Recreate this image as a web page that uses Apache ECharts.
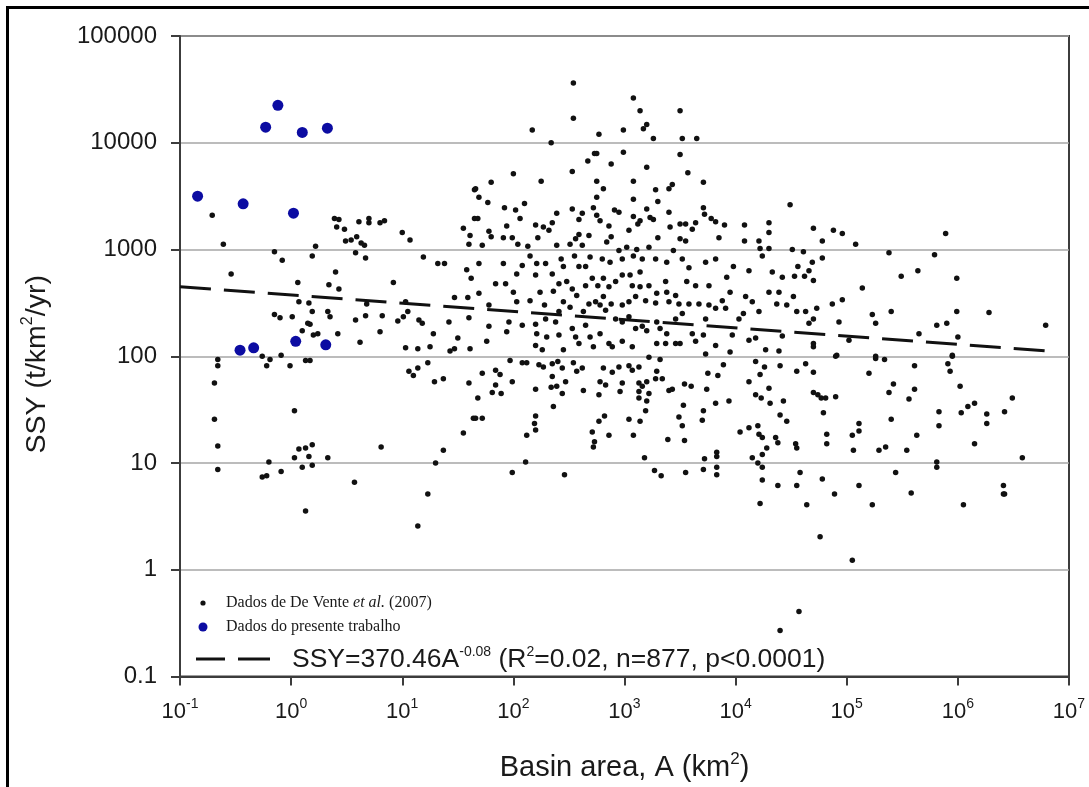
<!DOCTYPE html>
<html><head><meta charset="utf-8">
<script src="https://cdn.jsdelivr.net/npm/echarts@6/dist/echarts.min.js"></script>
<style>html,body{margin:0;padding:0;background:#fff}#c{width:1089px;height:787px}</style>
</head><body><div id="c"></div>
<script>
// De Vente et al. (2007) data as [log10(A km2), log10(SSY t/km2/yr)]
const deVenteLog = [
[-0.71,3.32],[-0.61,3.05],[-0.54,2.77],[-0.15,2.98],[-0.08,2.90],[0.06,2.69],[0.19,2.94],[0.22,3.03],[0.40,2.79],[0.34,2.67],
[0.43,2.63],[0.39,3.29],[0.43,3.28],[0.41,3.21],[0.48,3.19],[0.61,3.26],[0.70,3.29],[0.70,3.25],[0.80,3.25],[0.84,3.27],
[0.49,3.08],[0.54,3.09],[0.59,3.12],[0.63,3.06],[0.66,3.04],[0.58,2.97],[0.67,2.92],[1.00,3.16],[1.07,3.09],[1.19,2.93],
[1.32,2.87],[1.38,2.87],[0.92,2.69],[1.55,3.20],[1.61,3.13],[1.60,3.05],[1.65,3.56],[1.65,3.29],[1.58,2.81],[1.62,2.73],
[1.47,2.55],[1.59,2.55],[1.60,2.36],[1.42,2.32],[1.50,2.17],[1.43,2.05],[1.47,2.07],[1.61,2.07],[0.07,2.51],[0.16,2.50],
[0.19,2.42],[0.33,2.42],[0.35,2.37],[-0.15,2.39],[-0.10,2.36],[0.01,2.37],[0.15,2.31],[0.17,2.30],[0.10,2.24],[0.20,2.20],
[0.24,2.21],[0.42,2.21],[0.58,2.34],[0.67,2.38],[0.68,2.49],[0.82,2.38],[0.80,2.23],[0.62,2.13],[0.96,2.33],[1.01,2.37],
[1.05,2.42],[1.03,2.51],[1.15,2.34],[1.18,2.31],[1.28,2.21],[1.03,2.08],[1.14,2.07],[1.25,2.09],[-0.09,2.01],[-0.26,2.00],
[-0.66,1.97],[-0.66,1.91],[-0.69,1.75],[-0.69,1.41],[-0.66,1.16],[-0.66,0.94],[-0.19,1.97],[-0.22,1.91],[-0.01,1.91],[0.13,1.96],
[0.17,1.96],[0.03,1.49],[0.07,1.13],[0.13,1.14],[0.19,1.17],[0.03,1.05],[0.16,1.06],[0.33,1.05],[-0.20,1.01],[-0.09,0.92],
[0.10,0.96],[0.19,0.98],[-0.26,0.87],[-0.22,0.88],[0.57,0.82],[0.13,0.55],[0.81,1.15],[1.06,1.86],[1.10,1.82],[1.14,1.89],
[1.23,1.94],[1.29,1.76],[1.37,1.79],[1.60,1.75],[1.64,1.42],[1.55,1.28],[1.37,1.12],[1.30,1.00],[1.23,0.71],[1.14,0.41],
[2.54,4.56],[2.54,4.23],[2.17,4.12],[2.34,4.00],[2.77,4.08],[2.99,4.12],[3.08,4.42],[3.14,4.30],[3.20,4.17],[3.17,4.13],
[3.26,4.04],[3.50,4.30],[3.52,4.04],[3.65,4.04],[3.50,3.89],[3.57,3.72],[3.71,3.63],[2.99,3.91],[2.73,3.90],[2.75,3.90],
[2.67,3.83],[2.88,3.80],[3.20,3.77],[2.53,3.73],[2.00,3.71],[2.25,3.64],[1.80,3.63],[1.66,3.57],[1.69,3.49],[1.77,3.44],
[1.92,3.39],[2.02,3.37],[2.10,3.43],[2.06,3.29],[1.68,3.29],[1.94,3.22],[1.78,3.17],[1.80,3.12],[1.91,3.11],[1.99,3.11],
[2.04,3.05],[2.13,3.03],[1.72,3.04],[2.75,3.64],[2.81,3.57],[2.75,3.49],[3.08,3.64],[3.08,3.47],[3.28,3.56],[3.30,3.45],
[3.43,3.61],[3.40,3.57],[2.53,3.38],[2.39,3.34],[2.62,3.34],[2.59,3.28],[2.72,3.39],[2.75,3.32],[2.78,3.27],[2.86,3.22],
[2.91,3.37],[2.95,3.35],[3.08,3.31],[3.14,3.27],[3.12,3.24],[3.20,3.38],[3.23,3.30],[3.26,3.28],[3.40,3.35],[3.41,3.21],
[3.50,3.24],[3.55,3.24],[3.64,3.25],[3.71,3.39],[3.72,3.33],[3.78,3.29],[3.82,3.26],[3.90,3.23],[4.08,3.23],[4.30,3.25],
[4.30,3.16],[4.21,3.08],[4.08,3.08],[3.85,3.11],[3.61,3.19],[3.50,3.10],[3.55,3.08],[3.30,3.11],[3.04,3.18],[2.88,3.12],
[2.84,3.07],[2.68,3.13],[2.59,3.14],[2.56,3.10],[2.62,3.04],[2.51,3.05],[2.39,3.04],[2.32,3.18],[2.27,3.21],[2.20,3.23],
[2.22,3.11],[2.35,3.25],[3.44,2.99],[3.22,3.02],[3.11,3.00],[3.02,3.02],[2.95,2.99],[4.22,3.01],[4.30,3.01],[1.69,2.87],
[1.91,2.87],[2.08,2.85],[2.03,2.77],[2.15,2.94],[2.21,2.87],[2.29,2.87],[2.20,2.76],[2.35,2.77],[2.43,2.91],[2.45,2.84],
[2.55,2.94],[2.59,2.84],[2.65,2.84],[2.69,2.93],[2.80,2.91],[2.87,2.88],[2.98,2.91],[3.08,2.94],[3.16,2.91],[3.28,2.91],
[3.38,2.88],[3.52,2.91],[3.58,2.83],[3.73,2.88],[3.82,2.91],[3.98,2.84],[4.12,2.80],[4.24,2.94],[4.33,2.79],[1.84,2.68],
[1.93,2.68],[1.69,2.59],[1.78,2.48],[2.00,2.60],[2.03,2.51],[2.15,2.52],[2.24,2.60],[2.28,2.48],[2.36,2.61],[2.41,2.68],
[2.48,2.70],[2.53,2.63],[2.57,2.57],[2.65,2.66],[2.71,2.73],[2.76,2.66],[2.81,2.73],[2.86,2.65],[2.81,2.56],[2.74,2.51],
[2.92,2.70],[2.98,2.76],[3.05,2.76],[3.14,2.79],[3.07,2.66],[3.14,2.65],[3.22,2.66],[3.29,2.59],[3.37,2.70],[3.38,2.60],
[3.46,2.57],[3.56,2.70],[3.64,2.66],[3.76,2.66],[3.92,2.74],[3.95,2.60],[3.88,2.52],[3.82,2.45],[3.91,2.45],[3.76,2.48],
[3.58,2.49],[3.67,2.49],[3.49,2.49],[3.40,2.51],[3.28,2.50],[3.19,2.52],[3.10,2.56],[3.04,2.51],[2.98,2.48],[2.88,2.49],
[2.83,2.43],[2.78,2.48],[2.68,2.49],[2.63,2.42],[2.51,2.46],[2.45,2.51],[2.41,2.42],[4.09,2.56],[4.15,2.51],[4.30,2.60],
[4.21,2.42],[4.07,2.40],[4.03,2.35],[1.96,2.32],[2.08,2.29],[1.94,2.23],[1.78,2.28],[1.76,2.14],[2.20,2.30],[2.21,2.21],
[2.29,2.35],[2.38,2.32],[2.30,2.18],[2.41,2.20],[2.53,2.26],[2.56,2.18],[2.65,2.29],[2.69,2.18],[2.78,2.21],[2.86,2.12],
[2.92,2.35],[2.98,2.32],[3.04,2.37],[3.10,2.26],[3.16,2.28],[3.20,2.24],[3.29,2.32],[3.32,2.26],[3.38,2.21],[3.46,2.35],
[3.52,2.40],[3.61,2.21],[3.71,2.20],[3.82,2.10],[3.73,2.35],[3.97,2.20],[4.18,2.17],[4.27,2.06],[4.12,2.15],[2.20,2.10],
[2.26,2.06],[2.45,2.06],[2.59,2.12],[2.72,2.09],[2.89,2.09],[2.98,2.14],[3.07,2.09],[3.29,2.12],[3.37,2.12],[3.46,2.12],
[3.50,2.12],[3.64,2.14],[3.95,2.04],[3.73,2.02],
[1.97,1.96],[2.08,1.94],[2.12,1.94],[2.23,1.92],[2.27,1.90],[2.35,1.93],[2.40,1.95],[2.44,1.89],[2.54,1.94],[2.57,1.86],
[2.62,1.89],[1.84,1.87],[1.88,1.83],[1.72,1.84],[1.99,1.76],[1.84,1.73],[1.81,1.66],[1.89,1.65],[1.68,1.61],[2.35,1.81],
[2.47,1.76],[2.39,1.72],[2.34,1.71],[2.44,1.65],[2.20,1.69],[2.63,1.68],[2.36,1.53],[2.81,1.89],[2.89,1.85],[2.95,1.90],
[3.04,1.91],[3.13,1.90],[3.07,1.87],[2.78,1.76],[2.83,1.73],[2.77,1.64],[2.98,1.75],[2.96,1.67],[3.13,1.75],[3.16,1.72],
[3.20,1.76],[3.13,1.67],[3.22,1.65],[3.13,1.61],[3.20,1.58],[3.28,1.79],[3.34,1.79],[3.29,1.86],[3.32,1.97],[3.22,1.99],
[3.40,1.68],[3.43,1.69],[3.54,1.74],[3.60,1.72],[3.75,1.84],[3.84,1.82],[3.89,1.92],[3.74,1.69],[3.82,1.56],[3.94,1.58],
[3.53,1.54],[3.71,1.49],[3.19,1.49],[2.82,1.44],[2.77,1.39],[2.86,1.26],[3.04,1.41],[3.14,1.39],[3.08,1.26],[2.20,1.44],
[2.19,1.37],[2.20,1.31],[2.12,1.26],[1.72,1.42],[2.71,1.29],[2.73,1.20],[2.72,1.15],[3.49,1.43],[3.52,1.35],[3.70,1.40],
[3.39,1.22],[3.54,1.21],[4.04,1.29],[4.12,1.33],[4.20,1.35],[4.21,1.27],[4.24,1.24],[4.28,1.14],[4.24,1.08],[4.15,1.05],
[4.20,1.00],[4.24,0.96],[4.24,0.84],[4.22,0.62],[3.83,1.10],[3.83,1.06],[3.72,1.04],[3.83,0.96],[3.83,0.89],[3.71,0.94],
[3.55,0.91],[3.27,0.93],[3.33,0.88],[3.18,1.05],[2.11,1.01],[1.99,0.91],[2.46,0.89],[4.12,1.76],[4.18,1.64],[4.23,1.61],
[4.22,1.83],[4.26,1.90],[4.18,1.95],[4.30,1.70],[4.31,1.56],[1.66,1.42],
[4.40,1.91],[4.55,1.86],[4.63,1.93],[4.70,1.85],[4.90,2.00],[5.26,1.98],[5.34,1.97],[5.20,1.84],[5.61,1.91],[5.91,1.93],
[5.93,1.86],[5.95,2.00],[6.02,1.72],[4.70,1.66],[4.74,1.64],[4.77,1.61],[4.81,1.61],[4.90,1.62],[4.43,1.58],[4.40,1.45],
[4.46,1.39],[4.79,1.47],[5.42,1.74],[5.38,1.66],[5.61,1.69],[5.56,1.60],[5.40,1.41],[5.11,1.37],[5.11,1.30],[5.05,1.26],
[4.82,1.27],[4.82,1.18],[5.06,1.12],[5.29,1.12],[5.35,1.15],[5.54,1.12],[5.63,1.26],[5.83,1.48],[5.83,1.35],[6.03,1.47],
[6.09,1.53],[6.15,1.56],[6.26,1.46],[6.26,1.37],[6.42,1.48],[6.49,1.61],[6.15,1.18],[6.58,1.05],[5.81,1.01],[5.81,0.96],
[4.38,1.19],[4.54,1.18],[4.55,1.14],[4.36,1.24],[4.58,0.91],[4.38,0.79],[4.55,0.79],[4.64,0.61],[4.78,0.85],[4.89,0.71],
[5.11,0.79],[5.23,0.61],[5.44,0.91],[5.58,0.72],[6.05,0.61],[6.41,0.79],[6.41,0.71],[6.42,0.71],[4.76,0.31],[5.05,0.09],
[4.57,-0.39],[4.40,-0.57],
[4.49,3.42],[4.70,3.20],[4.88,3.18],[4.96,3.15],[4.78,3.08],[5.08,3.05],[5.89,3.15],[4.51,3.00],[4.61,2.98],[4.78,2.92],
[5.38,2.97],[5.79,2.95],[4.69,2.88],[4.66,2.80],[4.56,2.84],[4.53,2.75],[4.62,2.75],[4.70,2.71],[4.42,2.74],[4.39,2.60],
[4.52,2.56],[4.46,2.48],[4.37,2.49],[5.14,2.64],[5.49,2.75],[5.64,2.80],[5.99,2.73],[4.55,2.42],[4.63,2.42],[4.73,2.45],
[4.87,2.49],[4.96,2.53],[4.70,2.35],[4.66,2.31],[4.93,2.32],[5.23,2.39],[5.26,2.31],[5.40,2.42],[5.99,2.42],[6.28,2.41],
[5.81,2.29],[5.90,2.31],[6.79,2.29],[5.65,2.21],[6.00,2.18],[4.42,2.19],[4.70,2.12],[4.70,2.09],[5.02,2.15],[4.39,2.05],
[4.91,2.01],[5.26,2.00],[5.95,2.01]
];
// Data of the present work (km2, t/km2/yr)
const presentArea = [0.144, 0.37, 0.59, 0.76, 1.05, 1.26, 2.12, 0.347, 0.46, 1.1, 2.05];
const presentSSY  = [3160, 2680, 14000, 22400, 2190, 12500, 13700, 114, 120, 138, 128];
// Fitted power law SSY = 370.46 A^-0.08, end points of the drawn line
const fitArea = [0.1, 6.3e6];
const fitSSY  = [448, 112];
// Tick labels
const xTickExponents = ['-1','0','1','2','3','4','5','6','7'];
const yTickLabels = ['0.1','1','10','100','1000','10000','100000'];

const chart = echarts.init(document.getElementById('c'), null, {renderer: 'canvas'});
const FONT = 'Liberation Sans, Arial, sans-serif';
const SERIF = 'Liberation Serif, Times New Roman, serif';
const deVenteData = deVenteLog.map(p => [Math.pow(10, p[0]), Math.pow(10, p[1])]);
const presentData = presentArea.map((a, i) => [a, presentSSY[i]]);
const fitData = fitArea.map((a, i) => [a, fitSSY[i]]);

chart.setOption({
  backgroundColor: '#ffffff',
  animation: false,
  grid: {left: 180, right: 20, top: 36, bottom: 107, show: true, borderColor: '#3c3c3c', borderWidth: 2, backgroundColor: 'transparent'},
  xAxis: {
    type: 'log', logBase: 10, min: 0.1, max: 1e7, splitNumber: 8,
    axisLine: {show: true, lineStyle: {color: '#3c3c3c', width: 2}},
    axisTick: {show: true, inside: false, length: 9, lineStyle: {color: '#3c3c3c', width: 2}},
    splitLine: {show: false}, minorTick: {show: false},
    axisLabel: {
      margin: 21, color: '#1a1a1a',
      formatter: v => { const e = Math.round(Math.log10(v)); return '{b|10}{s|' + xTickExponents[e + 1] + '}'; },
      rich: {
        b: {fontSize: 22, fontFamily: FONT, color: '#1a1a1a', lineHeight: 28},
        s: {fontSize: 14, fontFamily: FONT, color: '#1a1a1a', lineHeight: 14, verticalAlign: 'top'}
      }
    },
    name: '{n|Basin area, A (km}{s|2}{n|)}', nameLocation: 'middle', nameGap: 74,
    nameTextStyle: {
      rich: {
        n: {fontSize: 29, fontFamily: FONT, color: '#1a1a1a', lineHeight: 34},
        s: {fontSize: 17, fontFamily: FONT, color: '#1a1a1a', lineHeight: 17, verticalAlign: 'top'}
      }
    }
  },
  yAxis: {
    type: 'log', logBase: 10, min: 0.1, max: 100000, splitNumber: 6,
    axisLine: {show: true, lineStyle: {color: '#3c3c3c', width: 2}},
    axisTick: {show: true, inside: false, length: 9, lineStyle: {color: '#3c3c3c', width: 2}},
    splitLine: {show: true, lineStyle: {color: '#a6a6a6', width: 1.5}},
    minorTick: {show: false},
    axisLabel: {
      margin: 23, fontSize: 24, fontFamily: FONT, color: '#1a1a1a',
      formatter: v => yTickLabels[Math.round(Math.log10(v)) + 1]
    },
    name: '{n|SSY (t/km}{s|2}{n|/yr)}', nameLocation: 'middle', nameGap: 126,
    nameTextStyle: {
      padding: [0, 16, 0, 0],
      rich: {
        n: {fontSize: 28.5, fontFamily: FONT, color: '#1a1a1a', lineHeight: 34},
        s: {fontSize: 16, fontFamily: FONT, color: '#1a1a1a', lineHeight: 16, verticalAlign: 'top'}
      }
    }
  },
  series: [
    {type: 'scatter', name: 'Dados de De Vente et al. (2007)', data: deVenteData, symbolSize: 5.5,
     itemStyle: {color: '#111111', opacity: 1}, z: 2},
    {type: 'scatter', name: 'Dados do presente trabalho', data: presentData, symbolSize: 11,
     itemStyle: {color: '#0c0ca2', opacity: 1}, z: 3},
    {type: 'line', name: 'fit', data: fitData, showSymbol: false, symbol: 'none',
     lineStyle: {color: '#111111', width: 3, type: [31, 13]}, z: 4}
  ],
  graphic: [
    {type: 'rect', shape: {x: 7.5, y: 7.5, width: 1200, height: 900}, style: {fill: 'none', stroke: '#000', lineWidth: 3}, silent: true},
    {type: 'circle', shape: {cx: 203, cy: 603, r: 2.6}, style: {fill: '#111'}},
    {type: 'text', x: 226, y: 603, style: {
      text: '{r|Dados de De Vente }{i|et al.}{r| (2007)}', verticalAlign: 'middle',
      rich: {r: {fontSize: 16, fontFamily: SERIF, fill: '#1a1a1a'},
             i: {fontSize: 16, fontFamily: SERIF, fontStyle: 'italic', fill: '#1a1a1a'}}}},
    {type: 'circle', shape: {cx: 203, cy: 627, r: 4.5}, style: {fill: '#0c0ca2'}},
    {type: 'text', x: 226, y: 627, style: {
      text: 'Dados do presente trabalho', verticalAlign: 'middle',
      fontSize: 16, fontFamily: SERIF, fill: '#1a1a1a'}},
    {type: 'line', shape: {x1: 196, y1: 659, x2: 225, y2: 659}, style: {stroke: '#111', lineWidth: 3}},
    {type: 'line', shape: {x1: 238, y1: 659, x2: 270, y2: 659}, style: {stroke: '#111', lineWidth: 3}},
    {type: 'text', x: 292, y: 660, style: {
      text: '{t|SSY=370.46A}{s|-0.08}{t| (R}{s|2}{t|=0.02, n=877, p<0.0001)}', verticalAlign: 'middle',
      rich: {t: {fontSize: 26.5, fontFamily: FONT, fill: '#1a1a1a', lineHeight: 30},
             s: {fontSize: 14, fontFamily: FONT, fill: '#1a1a1a', lineHeight: 14, verticalAlign: 'top'}}}}
  ]
});
</script></body></html>
